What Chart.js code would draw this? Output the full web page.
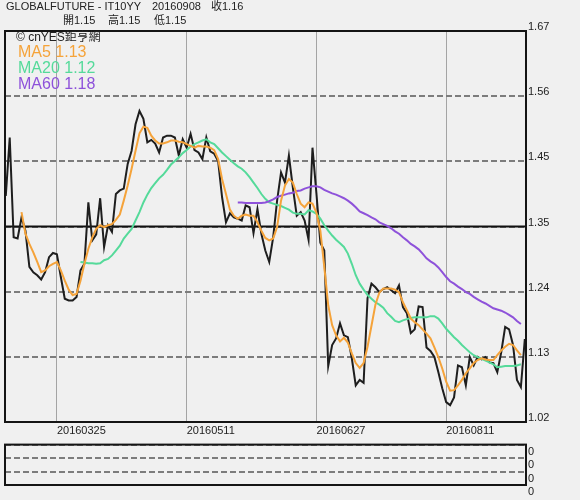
<!DOCTYPE html>
<html>
<head>
<meta charset="utf-8">
<script src="https://cdn.jsdelivr.net/npm/chart.js@4.4.0/dist/chart.umd.min.js"></script>
<style>
  body {
    margin: 0;
    width: 580px;
    height: 500px;
    overflow: hidden;
    position: relative;
    background: #f0f0f0;
    font-family: Arial, "Liberation Sans", "Noto Sans CJK TC", sans-serif;
    color: #222;
  }
  canvas { position: absolute; left: 0; }
  .txt { position: absolute; white-space: nowrap; z-index: 2; }
  .head { font-size: 11px; line-height: 13px; }
  .ma { font-size: 16px; line-height: 16px; left: 18px; }
</style>
</head>
<body>
<div class="txt head" style="left:6px;top:0px">GLOBALFUTURE - IT10YY</div>
<div class="txt head" style="left:152px;top:0px">20160908</div>
<div class="txt head" style="left:211px;top:0px">收1.16</div>
<div class="txt head" style="left:63px;top:14px">開1.15</div>
<div class="txt head" style="left:108px;top:14px">高1.15</div>
<div class="txt head" style="left:154px;top:14px">低1.15</div>

<div class="txt" style="left:16px;top:30px;font-size:12px;line-height:14px">© cnYES鉅亨網</div>
<div class="txt ma" style="top:44px;color:#f5a33a">MA5 1.13</div>
<div class="txt ma" style="top:60px;color:#55da9a">MA20 1.12</div>
<div class="txt ma" style="top:76px;color:#8e52da">MA60 1.18</div>

<canvas id="mainChart" width="580" height="440" style="top:0"></canvas>
<canvas id="volChart" width="580" height="64" style="top:436px"></canvas>

<script>
// Data
const closePrices = [
  1.396, 1.493, 1.327, 1.325, 1.360, 1.338, 1.278, 1.269, 1.264, 1.257,
  1.269, 1.294, 1.301, 1.299, 1.261, 1.225, 1.222, 1.222, 1.228, 1.272,
  1.283, 1.385, 1.322, 1.332, 1.392, 1.311, 1.347, 1.336, 1.399, 1.405,
  1.408, 1.449, 1.471, 1.515, 1.537, 1.524, 1.485, 1.489, 1.483, 1.468,
  1.493, 1.496, 1.496, 1.493, 1.463, 1.490, 1.476, 1.499, 1.472, 1.468,
  1.457, 1.493, 1.470, 1.466, 1.454, 1.394, 1.352, 1.367, 1.360, 1.358,
  1.355, 1.380, 1.377, 1.334, 1.374, 1.333, 1.305, 1.286, 1.327, 1.388,
  1.435, 1.418, 1.463, 1.410, 1.363, 1.369, 1.355, 1.323, 1.476, 1.400,
  1.318, 1.305, 1.113, 1.148, 1.159, 1.184, 1.164, 1.161, 1.126, 1.081,
  1.090, 1.085, 1.226, 1.250, 1.244, 1.236, 1.241, 1.244, 1.239, 1.234,
  1.247, 1.211, 1.201, 1.168, 1.174, 1.212, 1.211, 1.144, 1.138, 1.128,
  1.103, 1.076, 1.053, 1.048, 1.061, 1.114, 1.111, 1.081, 1.128, 1.114,
  1.128, 1.124, 1.128, 1.119, 1.118, 1.103, 1.136, 1.178, 1.174, 1.148,
  1.090, 1.078, 1.158
];

// MA5 starts at index 4
const ma5Start = 4;
const ma5 = [
  1.369, 1.333, 1.316, 1.302, 1.286, 1.269, 1.272, 1.279, 1.283, 1.286,
  1.272, 1.255, 1.240, 1.231, 1.233, 1.255, 1.283, 1.308, 1.327, 1.341,
  1.347, 1.344, 1.347, 1.349, 1.356, 1.365, 1.388, 1.413, 1.441, 1.471,
  1.500, 1.511, 1.509, 1.496, 1.488, 1.483, 1.483, 1.485, 1.488, 1.488,
  1.486, 1.485, 1.482, 1.479, 1.476, 1.479, 1.478, 1.478, 1.476, 1.472,
  1.457, 1.424, 1.399, 1.373, 1.363, 1.358, 1.363, 1.365, 1.363, 1.363,
  1.352, 1.338, 1.326, 1.322, 1.325, 1.344, 1.388, 1.413, 1.424, 1.418,
  1.399, 1.383, 1.377, 1.385, 1.383, 1.368, 1.338, 1.278, 1.214, 1.181,
  1.164, 1.154, 1.160, 1.152, 1.134, 1.118, 1.110, 1.118, 1.145, 1.180,
  1.215, 1.235, 1.242, 1.242, 1.242, 1.240, 1.236, 1.219, 1.206, 1.192,
  1.186, 1.181, 1.174, 1.167, 1.159, 1.144, 1.128, 1.109, 1.087, 1.072,
  1.073, 1.081, 1.090, 1.101, 1.109, 1.118, 1.123, 1.126, 1.124, 1.123,
  1.123, 1.131, 1.139, 1.145, 1.150, 1.148, 1.139, 1.131
];

// MA20 starts at index 19
const ma20Start = 19;
const ma20 = [
  1.286, 1.285, 1.284, 1.284, 1.283, 1.284, 1.289, 1.291, 1.297, 1.305,
  1.313, 1.325, 1.333, 1.341, 1.355, 1.369, 1.385, 1.398, 1.409, 1.417,
  1.425, 1.431, 1.439, 1.448, 1.454, 1.460, 1.467, 1.472, 1.478, 1.482,
  1.485, 1.488, 1.490, 1.485, 1.482, 1.475, 1.468, 1.462, 1.456, 1.450,
  1.445, 1.441, 1.435, 1.427, 1.418, 1.409, 1.399, 1.391, 1.385, 1.383,
  1.381, 1.379, 1.376, 1.373, 1.368, 1.366, 1.366, 1.365, 1.372, 1.370,
  1.366, 1.358, 1.347, 1.338, 1.330, 1.323, 1.317, 1.311, 1.300, 1.283,
  1.264, 1.250, 1.240, 1.231, 1.225, 1.219, 1.215, 1.210, 1.201, 1.195,
  1.188, 1.186, 1.189, 1.191, 1.193, 1.194, 1.194, 1.194, 1.194, 1.196,
  1.196, 1.192, 1.184, 1.175, 1.168, 1.161, 1.155, 1.148, 1.142, 1.136,
  1.131, 1.128, 1.125, 1.122, 1.119, 1.116, 1.111, 1.112, 1.113, 1.113,
  1.113, 1.114, 1.116
];

// MA60 starts at index 59
const ma60Start = 59;
const ma60 = [
  1.385, 1.385, 1.384, 1.384, 1.384, 1.384, 1.384, 1.385, 1.387, 1.390,
  1.394, 1.396, 1.398, 1.400, 1.401, 1.404, 1.405, 1.408, 1.410, 1.412,
  1.412, 1.410, 1.406, 1.403, 1.400, 1.398, 1.395, 1.392, 1.388, 1.383,
  1.377, 1.370, 1.367, 1.364, 1.360, 1.357, 1.352, 1.349, 1.346, 1.342,
  1.337, 1.333, 1.327, 1.322, 1.316, 1.312, 1.307, 1.300, 1.292, 1.287,
  1.283, 1.277, 1.269, 1.261, 1.254, 1.250, 1.245, 1.241, 1.236, 1.233,
  1.228, 1.224, 1.220, 1.217, 1.213, 1.209, 1.207, 1.205, 1.202, 1.198,
  1.194, 1.188, 1.183
];

// Axis ticks
const dateTickIndex = [13, 46, 79, 112];
const dateTickLabels = ['20160325', '20160511', '20160627', '20160811'];
const priceTickValues = [1.02, 1.1283, 1.2367, 1.345, 1.4533, 1.5617, 1.67];
const priceTickLabels = ['1.02', '1.13', '1.24', '1.35', '1.45', '1.56', '1.67'];
const midLineValue = 1.345;
const volTickValues = [0, 1, 2, 3];
const volTickLabels = ['0', '0', '0', '0'];

// Colors
const CLOSE_COLOR = '#1e1e1e';
const MA5_COLOR = '#f5a33a';
const MA20_COLOR = '#55da9a';
const MA60_COLOR = '#8e52da';
const FONT = { family: 'Arial, "Liberation Sans", sans-serif', size: 11 };

Chart.defaults.animation = false;
Chart.defaults.responsive = false;
Chart.defaults.plugins.legend.display = false;
Chart.defaults.plugins.tooltip.enabled = false;

function toPoints(values, start) {
  return values.map((v, i) => ({ x: start + i, y: v }));
}

function lineDataset(values, start, color, order) {
  return {
    data: toPoints(values, start),
    borderColor: color,
    borderWidth: 2,
    pointRadius: 0,
    tension: 0,
    fill: false,
    order
  };
}

// Solid line in the middle and black frame round the plot
const framePlugin = {
  id: 'frame',
  beforeDatasetsDraw(chart, args, opts) {
    if (opts.midValue === undefined) return;
    const { ctx, chartArea } = chart;
    const y = chart.scales.y.getPixelForValue(opts.midValue);
    ctx.save();
    ctx.strokeStyle = '#111';
    ctx.lineWidth = 2;
    ctx.beginPath();
    ctx.moveTo(chartArea.left, y);
    ctx.lineTo(chartArea.right, y);
    ctx.stroke();
    ctx.restore();
  },
  afterDraw(chart) {
    const { ctx, chartArea } = chart;
    ctx.save();
    ctx.strokeStyle = '#151515';
    ctx.lineWidth = 2;
    ctx.strokeRect(chartArea.left, chartArea.top, chartArea.right - chartArea.left, chartArea.bottom - chartArea.top);
    ctx.restore();
  }
};

function createMainChart() {
  new Chart(document.getElementById('mainChart'), {
    type: 'line',
    data: {
      datasets: [
        lineDataset(ma60, ma60Start, MA60_COLOR, 1),
        lineDataset(ma20, ma20Start, MA20_COLOR, 2),
        lineDataset(ma5, ma5Start, MA5_COLOR, 0),
        lineDataset(closePrices, 0, CLOSE_COLOR, 3)
      ]
    },
    options: {
      layout: { padding: { top: 31, left: 5, right: 0, bottom: 0 } },
      plugins: { frame: { midValue: midLineValue } },
      scales: {
        x: {
          type: 'linear',
          min: -0.2,
          max: 132.3,
          afterBuildTicks: scale => { scale.ticks = dateTickIndex.map(v => ({ value: v })); },
          afterFit: scale => { scale.height = 18; },
          grid: { color: '#a4a4a4', lineWidth: 1, drawTicks: false },
          border: { display: false },
          ticks: {
            autoSkip: false,
            align: 'start',
            padding: 2,
            maxRotation: 0,
            color: '#222',
            font: FONT,
            callback: (v, i) => dateTickLabels[i]
          }
        },
        y: {
          position: 'right',
          min: 1.02,
          max: 1.67,
          afterBuildTicks: scale => { scale.ticks = priceTickValues.map(v => ({ value: v })); },
          afterFit: scale => { scale.width = 54; },
          grid: { color: '#7c7c7c', lineWidth: 2, drawTicks: false },
          border: { display: false, dash: [6, 3] },
          ticks: {
            autoSkip: false,
            padding: 2,
            labelOffset: -4,
            color: '#222',
            font: FONT,
            callback: (v, i) => priceTickLabels[i]
          }
        }
      }
    },
    plugins: [framePlugin]
  });
}

function createVolumeChart() {
  new Chart(document.getElementById('volChart'), {
    type: 'line',
    data: { datasets: [{ data: [], pointRadius: 0 }] },
    options: {
      layout: { padding: { top: 6, left: 5, right: 0, bottom: 15 } },
      scales: {
        x: { type: 'linear', min: 0, max: 1, display: false },
        y: {
          position: 'right',
          min: 0,
          max: 3,
          afterBuildTicks: scale => { scale.ticks = volTickValues.map(v => ({ value: v })); },
          afterFit: scale => { scale.width = 54; },
          grid: { color: '#7c7c7c', lineWidth: 2, drawTicks: false },
          border: { display: false, dash: [6, 3] },
          ticks: {
            autoSkip: false,
            padding: 2,
            labelOffset: 7,
            color: '#222',
            font: FONT,
            callback: (v, i) => volTickLabels[i]
          }
        }
      }
    },
    plugins: [framePlugin]
  });
}

createMainChart();
createVolumeChart();
</script>
</body>
</html>
